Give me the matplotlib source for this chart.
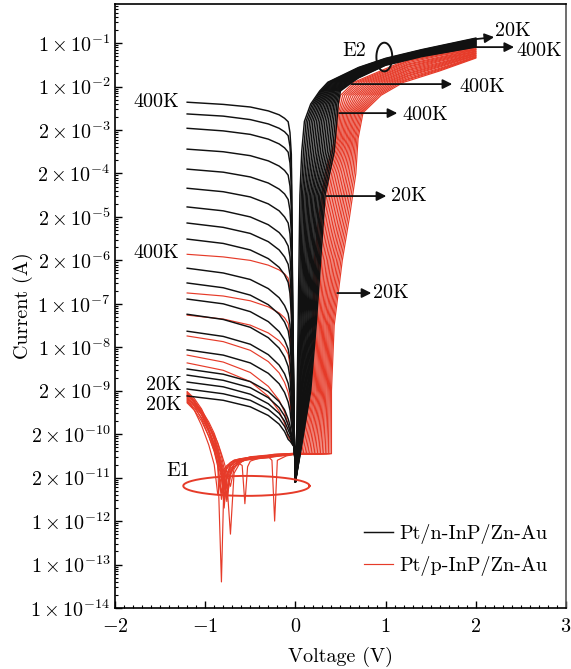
import numpy as np
import matplotlib
matplotlib.use('Agg')
import matplotlib.pyplot as plt
from matplotlib.ticker import LogLocator, MultipleLocator, NullFormatter

plt.rcParams['font.family'] = 'cmr10'
plt.rcParams['mathtext.fontset'] = 'cm'
plt.rcParams['axes.unicode_minus'] = False

# all currents are stored as log10(I / A)

# ---- Pt/n-InP/Zn-Au (black), 20 temperatures ----
# reverse branch: log10 I at these voltages
v_rev = [-1.2, -0.8, -0.5, -0.3, -0.18, -0.12, -0.08, -0.06, -0.045, -0.03, -0.01, 0.0]
black_rev = [
    [-2.36, -2.41, -2.47, -2.56, -2.65, -2.73, -2.81, -3.06, -3.56, -6.93, -10.3, -11.1],
    [-2.63, -2.68, -2.76, -2.86, -2.96, -3.04, -3.13, -3.38, -3.88, -7.09, -10.3, -11.1],
    [-2.96, -3.02, -3.10, -3.21, -3.32, -3.41, -3.51, -3.76, -4.26, -7.28, -10.3, -11.1],
    [-3.44, -3.50, -3.59, -3.71, -3.83, -3.93, -4.04, -4.29, -4.79, -7.55, -10.3, -11.1],
    [-3.90, -3.97, -4.08, -4.22, -4.36, -4.47, -4.60, -4.85, -5.35, -7.83, -10.3, -11.1],
    [-4.34, -4.42, -4.54, -4.70, -4.86, -5.00, -5.14, -5.39, -5.89, -8.10, -10.3, -11.1],
    [-4.77, -4.86, -5.00, -5.18, -5.36, -5.51, -5.67, -5.92, -6.42, -8.36, -10.3, -11.1],
    [-5.14, -5.24, -5.38, -5.57, -5.76, -5.92, -6.09, -6.34, -6.84, -8.57, -10.3, -11.1],
    [-5.51, -5.61, -5.76, -5.96, -6.16, -6.33, -6.51, -6.76, -7.26, -8.78, -10.3, -11.1],
    [-6.18, -6.29, -6.44, -6.65, -6.86, -7.04, -7.23, -7.48, -7.98, -9.14, -10.3, -11.1],
    [-6.52, -6.63, -6.80, -7.02, -7.24, -7.42, -7.62, -7.87, -8.37, -9.34, -10.3, -11.1],
    [-6.89, -7.00, -7.18, -7.41, -7.64, -7.83, -8.04, -8.29, -8.79, -9.55, -10.3, -11.1],
    [-7.24, -7.36, -7.54, -7.78, -8.02, -8.22, -8.44, -8.69, -9.19, -9.75, -10.3, -11.1],
    [-7.63, -7.75, -7.93, -8.17, -8.41, -8.61, -8.83, -9.05, -9.45, -9.88, -10.3, -11.1],
    [-8.06, -8.18, -8.36, -8.60, -8.84, -9.04, -9.26, -9.45, -9.75, -10.02, -10.3, -11.1],
    [-8.50, -8.62, -8.79, -9.02, -9.25, -9.44, -9.65, -9.80, -9.98, -10.14, -10.3, -11.1],
    [-8.64, -8.76, -8.93, -9.16, -9.39, -9.58, -9.79, -9.92, -10.06, -10.18, -10.3, -11.1],
    [-8.80, -8.91, -9.08, -9.30, -9.52, -9.70, -9.90, -10.00, -10.10, -10.20, -10.3, -11.1],
    [-8.96, -9.07, -9.22, -9.43, -9.64, -9.82, -10.01, -10.08, -10.15, -10.22, -10.3, -11.1],
    [-9.12, -9.22, -9.37, -9.57, -9.77, -9.94, -10.12, -10.16, -10.20, -10.25, -10.3, -11.1],
]
# forward branch, steep part: voltage reached at these current levels
black_up_levels = [-11.1, -10.5, -9.0, -7.5, -6.0, -4.5, -3.5, -2.8, -2.4, -2.1, -1.9]
black_up_v = [
    [0.0, 0.012, 0.020, 0.030, 0.040, 0.050, 0.070, 0.100, 0.170, 0.270, 0.360],
    [0.0, 0.014, 0.028, 0.041, 0.053, 0.065, 0.089, 0.119, 0.186, 0.282, 0.374],
    [0.0, 0.016, 0.036, 0.051, 0.065, 0.079, 0.108, 0.138, 0.202, 0.294, 0.388],
    [0.0, 0.018, 0.044, 0.062, 0.078, 0.094, 0.127, 0.157, 0.218, 0.306, 0.403],
    [0.0, 0.020, 0.052, 0.072, 0.091, 0.109, 0.146, 0.176, 0.234, 0.318, 0.417],
    [0.0, 0.022, 0.059, 0.083, 0.103, 0.124, 0.165, 0.195, 0.250, 0.331, 0.431],
    [0.0, 0.024, 0.067, 0.093, 0.116, 0.138, 0.184, 0.214, 0.266, 0.343, 0.445],
    [0.0, 0.026, 0.075, 0.104, 0.128, 0.153, 0.203, 0.233, 0.282, 0.355, 0.459],
    [0.0, 0.028, 0.083, 0.114, 0.141, 0.168, 0.222, 0.252, 0.298, 0.367, 0.474],
    [0.0, 0.030, 0.091, 0.125, 0.154, 0.183, 0.241, 0.271, 0.314, 0.379, 0.488],
    [0.0, 0.032, 0.099, 0.135, 0.166, 0.197, 0.259, 0.289, 0.331, 0.391, 0.502],
    [0.0, 0.034, 0.107, 0.146, 0.179, 0.212, 0.278, 0.308, 0.347, 0.403, 0.516],
    [0.0, 0.036, 0.115, 0.156, 0.192, 0.227, 0.297, 0.327, 0.363, 0.415, 0.531],
    [0.0, 0.038, 0.123, 0.167, 0.204, 0.241, 0.316, 0.346, 0.379, 0.427, 0.545],
    [0.0, 0.040, 0.131, 0.177, 0.217, 0.256, 0.335, 0.365, 0.395, 0.439, 0.559],
    [0.0, 0.042, 0.138, 0.188, 0.229, 0.271, 0.354, 0.384, 0.411, 0.452, 0.573],
    [0.0, 0.044, 0.146, 0.198, 0.242, 0.286, 0.373, 0.403, 0.427, 0.464, 0.587],
    [0.0, 0.046, 0.154, 0.209, 0.255, 0.300, 0.392, 0.422, 0.443, 0.476, 0.602],
    [0.0, 0.048, 0.162, 0.219, 0.267, 0.315, 0.411, 0.441, 0.459, 0.488, 0.616],
    [0.0, 0.050, 0.170, 0.230, 0.280, 0.330, 0.430, 0.460, 0.475, 0.500, 0.630],
]
# forward branch, saturating part: log10 I at these voltages
black_top_v = [0.7, 1.0, 1.4, 2.0]
black_top = [
    [-1.56, -1.35, -1.15, -0.885], [-1.57, -1.36, -1.16, -0.896],
    [-1.59, -1.37, -1.17, -0.907], [-1.60, -1.38, -1.18, -0.917],
    [-1.61, -1.38, -1.18, -0.928], [-1.62, -1.39, -1.19, -0.939],
    [-1.64, -1.40, -1.20, -0.950], [-1.65, -1.41, -1.21, -0.961],
    [-1.66, -1.42, -1.22, -0.971], [-1.67, -1.43, -1.23, -0.982],
    [-1.69, -1.43, -1.23, -0.993], [-1.70, -1.44, -1.24, -1.004],
    [-1.71, -1.45, -1.25, -1.014], [-1.72, -1.46, -1.26, -1.025],
    [-1.74, -1.47, -1.27, -1.036], [-1.75, -1.48, -1.28, -1.047],
    [-1.76, -1.49, -1.29, -1.058], [-1.78, -1.49, -1.29, -1.068],
    [-1.79, -1.50, -1.30, -1.079], [-1.80, -1.51, -1.31, -1.090],
]

# ---- Pt/p-InP/Zn-Au (red), 20 temperatures ----
# six warmest curves, reverse branch on v_rev
red_rev_hot = [
    [-5.86, -5.92, -6.00, -6.11, -6.22, -6.31, -6.41, -6.66, -7.16, -8.73, -10.3, -10.45],
    [-6.75, -6.82, -6.93, -7.07, -7.21, -7.32, -7.45, -7.70, -8.20, -9.25, -10.3, -10.45],
    [-7.26, -7.35, -7.49, -7.67, -7.85, -8.00, -8.16, -8.41, -8.91, -9.60, -10.3, -10.45],
    [-7.74, -7.87, -8.07, -8.33, -8.59, -8.81, -9.04, -9.25, -9.55, -9.93, -10.3, -10.45],
    [-8.18, -8.34, -8.58, -8.90, -9.22, -9.49, -9.78, -9.90, -10.05, -10.18, -10.3, -10.45],
    [-8.36, -8.53, -8.79, -9.13, -9.47, -9.75, -10.06, -10.12, -10.18, -10.24, -10.3, -10.45],
]
# colder curves, reverse branch with the noisy dips (region E1)
v_rev_cold = [-1.2, -1.12, -1.04, -0.96, -0.9, -0.86, -0.82, -0.79, -0.76, -0.72, -0.68, -0.62,
              -0.59, -0.56, -0.53, -0.5, -0.4, -0.3, -0.26, -0.23, -0.2, -0.1, 0.0]
red_rev_cold = [
    [-9.02, -9.18, -9.42, -9.78, -10.12, -10.45, -10.85, -11.45, -10.95, -10.72, -10.63, -10.58,
     -10.57, -10.56, -10.55, -10.54, -10.52, -10.50, -10.49, -10.48, -10.48, -10.47, -10.45],
    [-9.04, -9.22, -9.50, -9.90, -10.30, -10.65, -11.50, -10.98, -10.78, -10.66, -10.60, -10.57,
     -10.56, -10.55, -10.54, -10.53, -10.51, -10.49, -10.48, -10.47, -10.47, -10.46, -10.44],
    [-9.06, -9.25, -9.55, -9.95, -10.35, -10.70, -13.40, -10.90, -10.75, -10.65, -10.60, -10.57,
     -10.56, -10.55, -10.54, -10.53, -10.51, -10.49, -10.48, -10.47, -10.46, -10.45, -10.44],
    [-9.08, -9.26, -9.52, -9.90, -10.25, -10.55, -10.95, -11.70, -11.00, -10.75, -10.65, -10.60,
     -10.59, -10.58, -10.57, -10.56, -10.54, -10.52, -10.51, -10.50, -10.50, -10.48, -10.46],
    [-9.10, -9.24, -9.46, -9.78, -10.08, -10.35, -10.70, -11.00, -11.55, -10.90, -10.70, -10.60,
     -10.58, -10.57, -10.56, -10.55, -10.53, -10.51, -10.50, -10.49, -10.49, -10.47, -10.45],
    [-9.12, -9.25, -9.45, -9.72, -9.98, -10.22, -10.50, -10.80, -11.10, -12.30, -10.90, -10.68,
     -10.63, -10.60, -10.58, -10.56, -10.53, -10.50, -10.49, -10.48, -10.48, -10.46, -10.45],
    [-9.14, -9.30, -9.55, -9.90, -10.20, -10.45, -10.75, -11.00, -11.40, -10.90, -10.75, -10.68,
     -10.72, -11.60, -10.75, -10.62, -10.55, -10.52, -10.50, -10.49, -10.48, -10.47, -10.45],
    [-9.16, -9.35, -9.65, -10.05, -10.40, -10.75, -11.35, -10.95, -10.80, -10.70, -10.65, -10.60,
     -10.58, -10.57, -10.56, -10.55, -10.53, -10.52, -10.60, -12.00, -10.60, -10.50, -10.46],
    [-9.18, -9.30, -9.50, -9.82, -10.12, -10.40, -10.80, -11.30, -10.90, -10.72, -10.64, -10.60,
     -10.58, -10.57, -10.56, -10.55, -10.53, -10.51, -10.50, -10.49, -10.48, -10.47, -10.45],
    [-9.20, -9.33, -9.52, -9.80, -10.05, -10.30, -10.62, -10.90, -11.25, -10.85, -10.70, -10.62,
     -10.60, -10.58, -10.57, -10.56, -10.54, -10.52, -10.51, -10.50, -10.49, -10.47, -10.45],
    [-9.22, -9.45, -9.80, -10.25, -10.70, -11.40, -10.95, -10.80, -10.72, -10.66, -10.62, -10.58,
     -10.57, -10.56, -10.55, -10.54, -10.52, -10.50, -10.49, -10.48, -10.48, -10.47, -10.45],
    [-9.24, -9.36, -9.55, -9.80, -10.02, -10.20, -10.45, -10.65, -10.88, -11.20, -10.80, -10.62,
     -10.58, -10.56, -10.54, -10.52, -10.50, -10.48, -10.47, -10.46, -10.46, -10.45, -10.44],
    [-9.26, -9.40, -9.62, -9.95, -10.25, -10.52, -10.85, -11.10, -11.50, -10.95, -10.75, -10.65,
     -10.62, -10.60, -10.59, -10.58, -10.56, -10.54, -10.53, -10.52, -10.51, -10.49, -10.46],
    [-9.28, -9.45, -9.70, -10.05, -10.38, -10.65, -11.00, -11.60, -11.05, -10.80, -10.70, -10.64,
     -10.62, -10.60, -10.59, -10.58, -10.56, -10.54, -10.52, -10.51, -10.50, -10.48, -10.46],
]
red_up_levels = [-10.45, -9.0, -7.5, -6.0, -5.0, -4.0, -3.2, -2.6, -2.2, -1.9]
red_up_v = [
    [0.070, 0.170, 0.190, 0.210, 0.260, 0.330, 0.440, 0.465, 0.500, 0.650],
    [0.087, 0.182, 0.203, 0.226, 0.278, 0.348, 0.453, 0.480, 0.524, 0.679],
    [0.105, 0.194, 0.215, 0.243, 0.296, 0.366, 0.467, 0.495, 0.547, 0.708],
    [0.122, 0.206, 0.228, 0.259, 0.314, 0.384, 0.480, 0.510, 0.571, 0.737],
    [0.139, 0.218, 0.241, 0.275, 0.332, 0.402, 0.494, 0.525, 0.595, 0.766],
    [0.157, 0.231, 0.253, 0.292, 0.349, 0.419, 0.507, 0.540, 0.618, 0.795],
    [0.174, 0.243, 0.266, 0.308, 0.367, 0.437, 0.521, 0.555, 0.642, 0.824],
    [0.192, 0.255, 0.278, 0.324, 0.385, 0.455, 0.534, 0.570, 0.666, 0.853],
    [0.209, 0.267, 0.291, 0.341, 0.403, 0.473, 0.547, 0.585, 0.689, 0.882],
    [0.226, 0.279, 0.304, 0.357, 0.421, 0.491, 0.561, 0.600, 0.713, 0.911],
    [0.244, 0.291, 0.316, 0.373, 0.439, 0.509, 0.574, 0.615, 0.737, 0.939],
    [0.261, 0.303, 0.329, 0.389, 0.457, 0.527, 0.588, 0.630, 0.761, 0.968],
    [0.278, 0.315, 0.342, 0.406, 0.475, 0.545, 0.601, 0.645, 0.784, 0.997],
    [0.296, 0.327, 0.354, 0.422, 0.493, 0.563, 0.614, 0.660, 0.808, 1.026],
    [0.313, 0.339, 0.367, 0.438, 0.510, 0.580, 0.628, 0.675, 0.832, 1.055],
    [0.331, 0.352, 0.379, 0.455, 0.528, 0.598, 0.641, 0.690, 0.855, 1.084],
    [0.348, 0.364, 0.392, 0.471, 0.546, 0.616, 0.655, 0.705, 0.879, 1.113],
    [0.365, 0.376, 0.405, 0.487, 0.564, 0.634, 0.668, 0.720, 0.903, 1.142],
    [0.383, 0.388, 0.417, 0.504, 0.582, 0.652, 0.682, 0.735, 0.926, 1.171],
    [0.400, 0.400, 0.430, 0.520, 0.600, 0.670, 0.695, 0.750, 0.950, 1.200],
]
red_top_v = [1.25, 1.6, 2.0]
red_top = [
    [-1.37, -1.23, -1.10], [-1.40, -1.25, -1.11], [-1.42, -1.27, -1.13],
    [-1.45, -1.29, -1.14], [-1.48, -1.32, -1.15], [-1.50, -1.34, -1.16],
    [-1.53, -1.36, -1.18], [-1.55, -1.38, -1.19], [-1.58, -1.40, -1.20],
    [-1.61, -1.42, -1.22], [-1.63, -1.45, -1.23], [-1.66, -1.47, -1.24],
    [-1.69, -1.49, -1.25], [-1.71, -1.51, -1.27], [-1.74, -1.53, -1.28],
    [-1.76, -1.55, -1.29], [-1.79, -1.58, -1.31], [-1.82, -1.60, -1.32],
    [-1.84, -1.62, -1.33], [-1.87, -1.64, -1.345],
]

# y tick labels exactly as printed on the original axis
ytick_exp = list(range(1, 15))
ytick_mant = [1, 1, 2, 2, 2, 2, 1, 1, 2, 2, 2, 1, 1, 1]

BLACK = '#111111'
RED = '#e63b29'
FS = 14.5

fig = plt.figure(figsize=(5.71, 6.69), dpi=100)
ax = fig.add_axes([0.2014, 0.0912, 0.7898, 0.9028])


def join(*parts):
    v, l = [], []
    for pv, pl in parts:
        v += list(pv)
        l += list(pl)
    return np.array(v), 10.0 ** np.array(l)


red_rev_all = [(v_rev, r) for r in red_rev_hot] + [(v_rev_cold, r) for r in red_rev_cold]
for i, (vr, lr) in enumerate(red_rev_all):
    v, y = join((vr, lr), (red_up_v[i], red_up_levels), (red_top_v, red_top[i]))
    lr_line, = ax.plot(v, y, color=RED, lw=0.85)

for i in range(len(black_rev)):
    v, y = join((v_rev, black_rev[i]), (black_up_v[i], black_up_levels),
                (black_top_v, black_top[i]))
    bk_line, = ax.plot(v, y, color=BLACK, lw=1.05)

ax.set_yscale('log')
ax.set_xlim(-2, 3)
ax.set_ylim(1e-14, 10 ** -0.1)

ax.set_yticks([10.0 ** -k for k in ytick_exp],
              [r'$%d\times10^{-%d}$' % (m, k) for m, k in zip(ytick_mant, ytick_exp)])
ax.yaxis.set_minor_locator(LogLocator(base=10, subs=np.arange(2, 10), numticks=100))
ax.yaxis.set_minor_formatter(NullFormatter())
ax.set_xticks(range(-2, 4), [r'$%d$' % k for k in range(-2, 4)])
ax.xaxis.set_minor_locator(MultipleLocator(0.1))
ax.tick_params(which='both', direction='in', top=False, right=False, labelsize=FS)
ax.tick_params(which='major', length=5, width=1.0)
ax.tick_params(which='minor', length=2.5, width=0.8)
ax.tick_params(axis='y', pad=3)
ax.tick_params(axis='x', pad=7)
for s in ax.spines.values():
    s.set_linewidth(1.2)
ax.spines['right'].set_color('#555555')

ax.set_xlabel('Voltage (V)', fontsize=FS, labelpad=8)
ax.set_ylabel('Current (A)', fontsize=FS, labelpad=-2)


def lg(p):
    return 10.0 ** p


# temperature labels on the left
for txt, vx, ly in [('400K', -1.285, -2.36), ('400K', -1.285, -5.82),
                    ('20K', -1.262, -8.87), ('20K', -1.262, -9.33)]:
    ax.text(vx, lg(ly), txt, ha='right', va='center', fontsize=FS)

# arrows with labels
arrow_kw = dict(arrowstyle='-|>', color=BLACK, lw=1.3, mutation_scale=14, shrinkA=0, shrinkB=0)
for txt, tail, head, tx in [
        ('20K', (2.0, -0.908), (2.204, -0.862), (2.21, -0.72)),
        ('400K', (2.0, -1.092), (2.425, -1.092), (2.447, -1.184)),
        ('400K', (0.62, -1.943), (1.739, -1.943), (1.816, -2.012)),
        ('400K', (0.487, -2.611), (1.13, -2.611), (1.185, -2.657)),
        ('20K', (0.343, -4.52), (1.008, -4.52), (1.063, -4.52)),
        ('20K', (0.465, -6.752), (0.842, -6.752), (0.864, -6.752))]:
    ax.annotate('', xy=(head[0], lg(head[1])), xytext=(tail[0], lg(tail[1])),
                arrowprops=arrow_kw)
    ax.text(tx[0], lg(tx[1]), txt, ha='left', va='center', fontsize=FS)

# E1 / E2 ellipses (round in the log-current plane)
t = np.linspace(0, 2 * np.pi, 200)
ax.plot(-0.543 + 0.70 * np.cos(t), 10 ** (-11.19 + 0.23 * np.sin(t)), color=RED, lw=1.4)
ax.plot(0.986 + 0.088 * np.cos(t), 10 ** (-1.32 + 0.33 * np.sin(t)), color=BLACK, lw=1.4)
ax.text(-1.296, lg(-10.85), 'E1', ha='center', va='center', fontsize=FS)
ax.text(0.653, lg(-1.19), 'E2', ha='center', va='center', fontsize=FS)

ax.legend([bk_line, lr_line], ['Pt/n-InP/Zn-Au', 'Pt/p-InP/Zn-Au'], loc='lower right',
          bbox_to_anchor=(0.99, 0.03), frameon=False, fontsize=FS,
          handlelength=1.45, handletextpad=0.3, labelspacing=0.6, borderpad=0.2)

fig.savefig('out.png', dpi=100)
